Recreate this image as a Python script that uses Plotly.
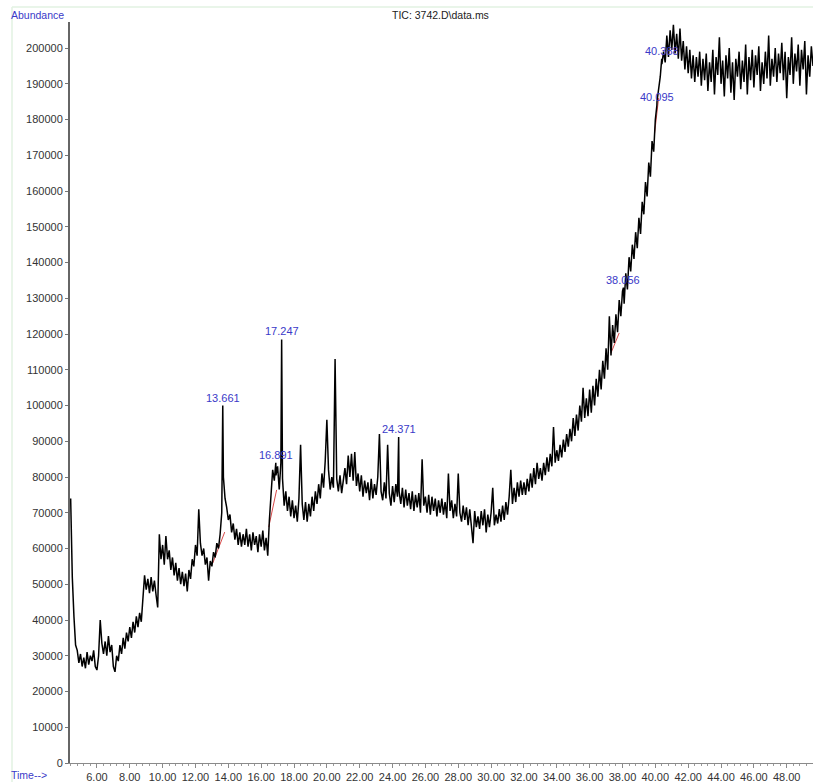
import plotly.graph_objects as go

# Total ion chromatogram, abundance read every 0.1 min, grouped in 5-minute blocks
scan_step = 0.1
block_starts = [4.4, 10.0, 15.0, 20.0, 25.0, 30.0, 35.0, 40.0, 45.0]

tic_04 = [74000, 52000, 41000, 33000, 31500, 28000, 30500, 27000, 29500, 26500,
          31000, 27500, 30000, 28500, 31500, 27000, 26000, 30000, 40000, 33500,
          30500, 34000, 30000, 35500, 31000, 33000, 27000, 25500, 30000, 28500,
          33000, 30500, 35000, 32000, 36500, 34000, 38000, 35000, 39500, 36500,
          41000, 38000, 42000, 39500, 46000, 52500, 48500, 51500, 47500, 52000,
          48000, 51000, 47000, 43500, 64000, 57000]
tic_10 = [61000, 55500, 63500, 57000, 59500, 54000, 57500, 52500, 56000, 51000,
          54500, 50000, 53500, 49500, 53000, 48000, 54000, 51500, 57000, 55000,
          61000, 58000, 71000, 61500, 58000, 60000, 55500, 57500, 51000, 56500,
          55000, 59000, 57500, 61500, 60000, 64000, 70000, 80000, 74000, 71500,
          68000, 69500, 64500, 67000, 62500, 65500, 61000, 64500, 60500, 64000]
tic_15 = [61000, 65500, 60500, 64000, 59500, 64500, 61000, 63500, 59000, 64000,
          60500, 65000, 59500, 63000, 58000, 68000, 76500, 82000, 79000, 80500,
          83000, 76500, 84000, 79500, 72000, 76000, 70500, 74500, 69000, 73500,
          68500, 72000, 67500, 74000, 89000, 72500, 68000, 73000, 67500, 72500,
          69000, 74500, 70500, 76000, 72500, 78000, 74000, 81000, 77000, 84500]
tic_20 = [96000, 82000, 76500, 80000, 77000, 113000, 79500, 76000, 80500, 75500,
          79000, 82500, 78000, 86000, 80000, 86500, 79000, 87000, 77500, 81000,
          76000, 80500, 74500, 79000, 75500, 78500, 73500, 79500, 74000, 78000,
          75000, 80000, 92000, 76000, 73500, 78500, 74000, 89000, 75500, 72000,
          77500, 73000, 78000, 74500, 76000, 72500, 77000, 71500, 76500, 72000]
tic_25 = [75500, 71000, 76000, 70500, 75000, 71500, 75500, 70000, 85000, 72000,
          74500, 70000, 75000, 69500, 74500, 70500, 74000, 69000, 73500, 70000,
          74000, 69500, 73000, 68500, 81000, 70500, 73500, 68500, 72500, 69000,
          81000, 70000, 67500, 72000, 68000, 71500, 66500, 71000, 67000, 61500,
          70500, 66000, 69000, 65500, 70500, 66500, 71000, 64500, 69500, 66000]
tic_30 = [70000, 77000, 66500, 69500, 67000, 71000, 67500, 72000, 68000, 73000,
          69500, 74500, 82000, 72500, 77000, 73000, 78500, 74500, 79000, 75000,
          78500, 75000, 79500, 76000, 81000, 77000, 82500, 78000, 84000, 79500,
          82500, 79000, 84000, 80500, 85500, 81500, 86500, 83000, 94000, 84000,
          87500, 84500, 89000, 85500, 90500, 87000, 92000, 88500, 93500, 90000]
tic_35 = [96500, 91500, 97500, 93000, 100000, 95500, 105000, 96500, 102000, 97000,
          104500, 98000, 105500, 100000, 107500, 102500, 110000, 104500, 112500, 107500,
          116000, 110000, 125000, 114000, 122500, 117500, 125500, 120500, 129500, 125000,
          132000, 128500, 137000, 132500, 141500, 137500, 145000, 141000, 148500, 144000,
          152500, 148000, 157000, 153500, 162500, 158500, 168000, 164000, 174000, 171000]
tic_40 = [180000, 185000, 188500, 192000, 195500, 199000, 196000, 203500, 197500, 205000,
          199500, 206500, 198500, 204000, 197000, 205500, 196500, 202000, 194000, 200500,
          193000, 199500, 191500, 198000, 190500, 197500, 192000, 199000, 189500, 197000,
          191000, 198500, 188000, 196000, 190500, 199500, 187000, 197500, 192500, 203000,
          190000, 196500, 186500, 198000, 191500, 200000, 187500, 196000, 185500, 197000]
tic_45 = [192000, 199000, 188500, 196500, 190500, 201000, 187000, 197500, 191000, 199500,
          189000, 198000, 192500, 200500, 188000, 196000, 190000, 199000, 191500, 203500,
          189500, 197000, 192000, 200000, 190500, 198500, 193000, 201500, 191000, 199000,
          186000, 197500, 192500, 203000, 190000, 198500, 193500, 201000, 189500, 199500,
          194000, 202000, 187000, 198000, 192000, 200500, 195000]

# Integrated peaks: retention time (min) and apex abundance
peak_rt = [13.661, 16.891, 17.247, 24.371, 38.056, 40.095, 40.388]
peak_abund = [100000, 84000, 118500, 91200, 133000, 184000, 197000]

# Integration baselines (start rt, end rt, start abundance, end abundance)
base_rt0 = [13.05, 16.46, 37.30, 39.95]
base_rt1 = [13.78, 16.94, 37.80, 40.20]
base_ab0 = [55900, 66000, 114700, 176000]
base_ab1 = [64600, 76400, 120300, 186000]

blocks = [tic_04, tic_10, tic_15, tic_20, tic_25, tic_30, tic_35, tic_40, tic_45]
points = []
for start, vals in zip(block_starts, blocks):
    for i, v in enumerate(vals):
        points.append((round(start + i * scan_step, 3), v))
points += list(zip(peak_rt, peak_abund))
points.sort(key=lambda p: p[0])
times = [p[0] for p in points]
abund = [p[1] for p in points]

LABEL_BLUE = "#3a3ac8"
FONT = "Liberation Sans, Arial, sans-serif"

fig = go.Figure()
for t0, t1, a0, a1 in zip(base_rt0, base_rt1, base_ab0, base_ab1):
    fig.add_trace(go.Scatter(x=[t0, t1], y=[a0, a1], mode="lines",
                             line=dict(color="#d84a4a", width=1), hoverinfo="skip"))
fig.add_trace(go.Scatter(x=times, y=abund, mode="lines",
                         line=dict(color="black", width=1.5)))

annotations = []
for rt, ab in zip(peak_rt, peak_abund):
    annotations.append(dict(x=rt, y=ab, text=f"{rt:.3f}", showarrow=False,
                            xanchor="center", yanchor="bottom",
                            font=dict(family=FONT, size=11, color=LABEL_BLUE)))

# plot area: x 70..813 px, y 22..763 px
def px_x(px):
    return (px - 70) / 743.0

def px_y(py):
    return (763 - py) / 741.0

annotations += [
    dict(xref="paper", yref="paper", x=px_x(440), y=px_y(15), text="TIC: 3742.D\\data.ms",
         showarrow=False, xanchor="center", yanchor="middle",
         font=dict(family=FONT, size=10.5, color="#222")),
    dict(xref="paper", yref="paper", x=px_x(9), y=px_y(15), text="Abundance",
         showarrow=False, xanchor="left", yanchor="middle",
         font=dict(family=FONT, size=10.5, color=LABEL_BLUE)),
    dict(xref="paper", yref="paper", x=px_x(9), y=px_y(775), text="Time-->",
         showarrow=False, xanchor="left", yanchor="middle",
         font=dict(family=FONT, size=10.5, color=LABEL_BLUE)),
]

frame = [
    dict(type="line", xref="paper", yref="paper", x0=px_x(12), x1=px_x(813),
         y0=px_y(7), y1=px_y(7), line=dict(color="#e2f2e2", width=1.5)),
    dict(type="line", xref="paper", yref="paper", x0=px_x(12), x1=px_x(12),
         y0=px_y(7), y1=px_y(782), line=dict(color="#e2f2e2", width=1.5)),
]

fig.update_layout(
    width=813, height=782,
    margin=dict(l=70, r=0, t=22, b=19),
    paper_bgcolor="white", plot_bgcolor="white",
    showlegend=False,
    annotations=annotations,
    shapes=frame,
    font=dict(family=FONT, size=11, color="#333"),
)
fig.update_xaxes(
    range=[4.36, 49.6], automargin=False,
    showline=True, linecolor="#8a8a8a", linewidth=1,
    ticks="outside", ticklen=4, tickcolor="#8a8a8a",
    tick0=6, dtick=2, tickformat=".2f",
    tickfont=dict(family=FONT, size=11, color="#333"),
    minor=dict(ticks="outside", ticklen=2, tick0=6, dtick=0.4, tickcolor="#9a9a9a"),
    showgrid=False, zeroline=False,
)
fig.update_yaxes(
    range=[0, 207300], automargin=False,
    showline=True, linecolor="#666", linewidth=2,
    ticks="outside", ticklen=3, tickcolor="#777",
    dtick=10000, tickformat="d",
    tickfont=dict(family=FONT, size=11, color="#333"),
    showgrid=False, zeroline=False,
)

fig.write_html("out.html")
